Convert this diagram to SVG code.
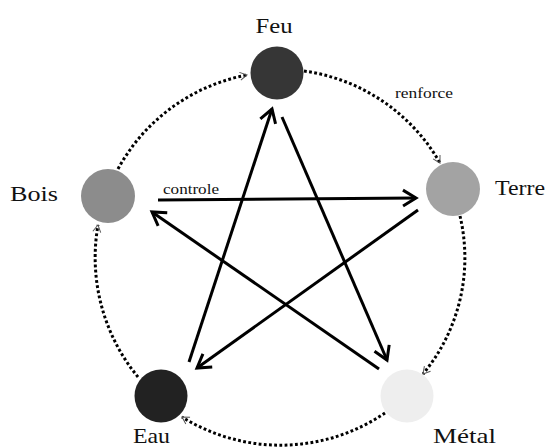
<svg xmlns="http://www.w3.org/2000/svg" width="549" height="448" viewBox="0 0 549 448">
<defs>
<style>
.lbl{font-family:"Liberation Serif","Times New Roman",serif;font-size:22px;fill:#111}
.small{font-family:"Liberation Serif","Times New Roman",serif;font-size:15px;fill:#111}
.ctrl{fill:none;stroke:#000;stroke-width:3;marker-end:url(#solid)}
.gen{fill:none;stroke:#000;stroke-width:3;stroke-dasharray:2.8 2.4;marker-end:url(#thin)}
</style>
<marker id="solid" markerUnits="userSpaceOnUse" markerWidth="20" markerHeight="20" refX="0" refY="0" viewBox="-16 -10 20 20" orient="auto" overflow="visible">
<path d="M-13,-8 L0,0 L-13,8" fill="none" stroke="#000" stroke-width="3" stroke-linejoin="miter"/>
</marker>
<marker id="thin" markerUnits="userSpaceOnUse" markerWidth="12" markerHeight="12" refX="0" refY="0" viewBox="-10 -6 12 12" orient="auto" overflow="visible">
<path d="M-7,-4 L0,0 L-7,4" fill="none" stroke="#555" stroke-width="1"/>
</marker>
</defs>
<rect width="549" height="448" fill="#fff"/>
<g id="connectors">
<path class="gen" d="M118,169 A186 186 0 0 1 247,75"/>
<path class="gen" d="M304,71 A186 186 0 0 1 440,163"/>
<path class="gen" d="M460,216 A182 182 0 0 1 423,374"/>
<path class="gen" d="M385,413 A186 186 0 0 1 182,417"/>
<path class="gen" d="M138,377 A188 188 0 0 1 98,225"/>
<line class="ctrl" x1="158" y1="200" x2="416" y2="198"/>
<line class="ctrl" x1="418" y1="210" x2="197" y2="368"/>
<line class="ctrl" x1="189" y1="362" x2="272" y2="109"/>
<line class="ctrl" x1="282" y1="117" x2="387" y2="360"/>
<line class="ctrl" x1="379" y1="369" x2="152" y2="212"/>
<text class="small" x="395" y="98" textLength="58" lengthAdjust="spacingAndGlyphs">renforce</text>
<text class="small" x="163" y="194" textLength="56" lengthAdjust="spacingAndGlyphs">controle</text>
</g>
<g id="feu">
<circle cx="277" cy="73" r="26.5" fill="#363636"/>
<text class="lbl" x="274" y="33" text-anchor="middle" textLength="37" lengthAdjust="spacingAndGlyphs">Feu</text>
</g>
<g id="terre">
<circle cx="453" cy="189" r="27" fill="#a3a3a3"/>
<text class="lbl" x="495" y="195" textLength="50" lengthAdjust="spacingAndGlyphs">Terre</text>
</g>
<g id="metal">
<circle cx="407" cy="396" r="26.5" fill="#eeeeee"/>
<text class="lbl" x="433" y="443" textLength="63" lengthAdjust="spacingAndGlyphs">Métal</text>
</g>
<g id="eau">
<circle cx="161" cy="396" r="26.5" fill="#222222"/>
<text class="lbl" x="133" y="443" textLength="37" lengthAdjust="spacingAndGlyphs">Eau</text>
</g>
<g id="bois">
<circle cx="108" cy="196" r="27" fill="#8c8c8c"/>
<text class="lbl" x="10" y="201" textLength="48" lengthAdjust="spacingAndGlyphs">Bois</text>
</g>
</svg>
